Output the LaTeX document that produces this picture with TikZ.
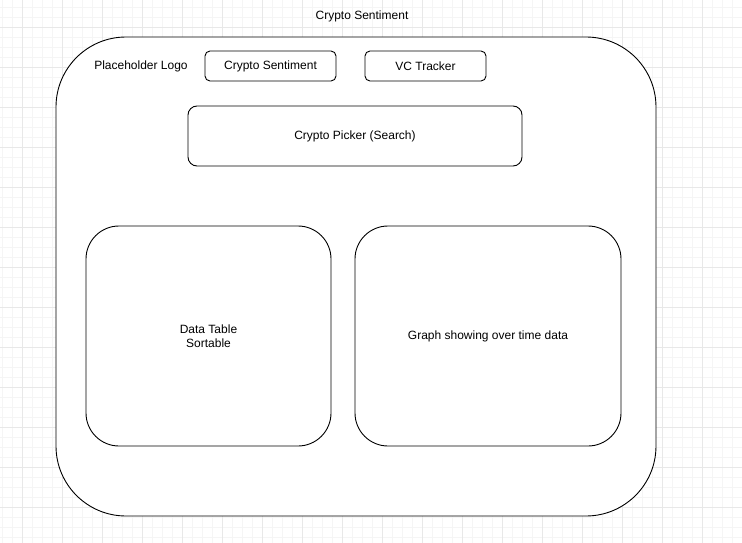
\documentclass[tikz,border=0pt]{standalone}
\usepackage{fontspec}
\setmainfont{Liberation Sans}
\definecolor{minorgrid}{HTML}{F5F5F5}
\definecolor{majorgrid}{HTML}{E8E8E8}
\tikzset{
  box/.style={draw, line width=0.9pt, fill=white, inner sep=0pt, align=center,
    font=\fontsize{12}{14}\selectfont},
  label/.style={inner sep=0pt, font=\fontsize{12}{14}\selectfont}
}
\begin{document}
\begin{tikzpicture}[x=1pt,y=-1pt]
      \useasboundingbox (0,0) rectangle (742,543);
      \fill[white] (0,0) rectangle (742,543);
      % grid
      \foreach \x in {2,12,...,742}
        \draw[minorgrid, line width=0.7pt] (\x,0) -- (\x,543);
      \foreach \y in {7,17,...,543}
        \draw[minorgrid, line width=0.7pt] (0,\y) -- (742,\y);
      \foreach \x in {22,62,...,742}
        \draw[majorgrid, line width=0.7pt] (\x,0) -- (\x,543);
      \foreach \y in {27,67,...,543}
        \draw[majorgrid, line width=0.7pt] (0,\y) -- (742,\y);
      % page frame
      \node[label] (title) at (362,16.5) {Crypto Sentiment};
      \node[box, rounded corners=70pt, minimum width=600pt, minimum height=479pt]
        (page) at (356,276.5) {};
      \node[label] (logo) at (141,66.5) {Placeholder Logo};
      \node[box, rounded corners=5pt, minimum width=131pt, minimum height=30pt]
        (sentiment) at (270.5,66) {Crypto Sentiment};
      \node[box, rounded corners=5pt, minimum width=121pt, minimum height=30pt]
        (vc) at (425.5,66) {VC Tracker};
      \node[box, rounded corners=9pt, minimum width=334pt, minimum height=60pt]
        (picker) at (355,136) {Crypto Picker (Search)};
      \node[box, rounded corners=33pt, minimum width=245pt, minimum height=220pt]
        (table) at (208.5,336) {Data Table\\Sortable};
      \node[box, rounded corners=33pt, minimum width=266pt, minimum height=220pt]
        (graph) at (488,336) {Graph showing over time data};
    \end{tikzpicture}
\end{document}
